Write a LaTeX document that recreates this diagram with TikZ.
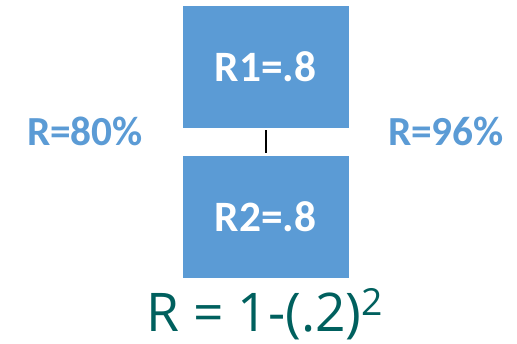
\documentclass[tikz,border=0pt]{standalone}
\usepackage{fontspec}
\setmainfont{Carlito}
\newfontfamily\formulafont{Open Sans}
\usepackage{xcolor}
\definecolor{boxblue}{HTML}{5B9BD5}
\definecolor{formteal}{HTML}{00605E}
\usetikzlibrary{arrows.meta}

\begin{document}
\begin{tikzpicture}[x=0.75pt,y=-0.75pt,
  rbox/.style={fill=boxblue,draw=white,minimum width=125.25pt,minimum height=92.25pt,inner sep=0pt,
    text=white,font=\fontsize{32.5}{38}\selectfont\bfseries},
  rlabel/.style={text=boxblue,font=\fontsize{31}{36}\selectfont\bfseries}]
\useasboundingbox (0,0) rectangle (517,343);
\node[rbox](r1) at (265.5,66.5){R1=.8};
\node[rbox](r2) at (265.5,217){R2=.8};
\draw[line width=1.5pt]([yshift=-1.5pt]r1.south)--([yshift=1.5pt]r2.north);
\node[rlabel](left) at (85,131){R=80\%};
\node[rlabel](right) at (446,131){R=96\%};
\node[inner sep=0pt,text=formteal,font=\fontsize{40}{48}\selectfont\formulafont](form) at (265,314){R = 1-(.2)\raisebox{3pt}{\textsuperscript{2}}};
\end{tikzpicture}
\end{document}
